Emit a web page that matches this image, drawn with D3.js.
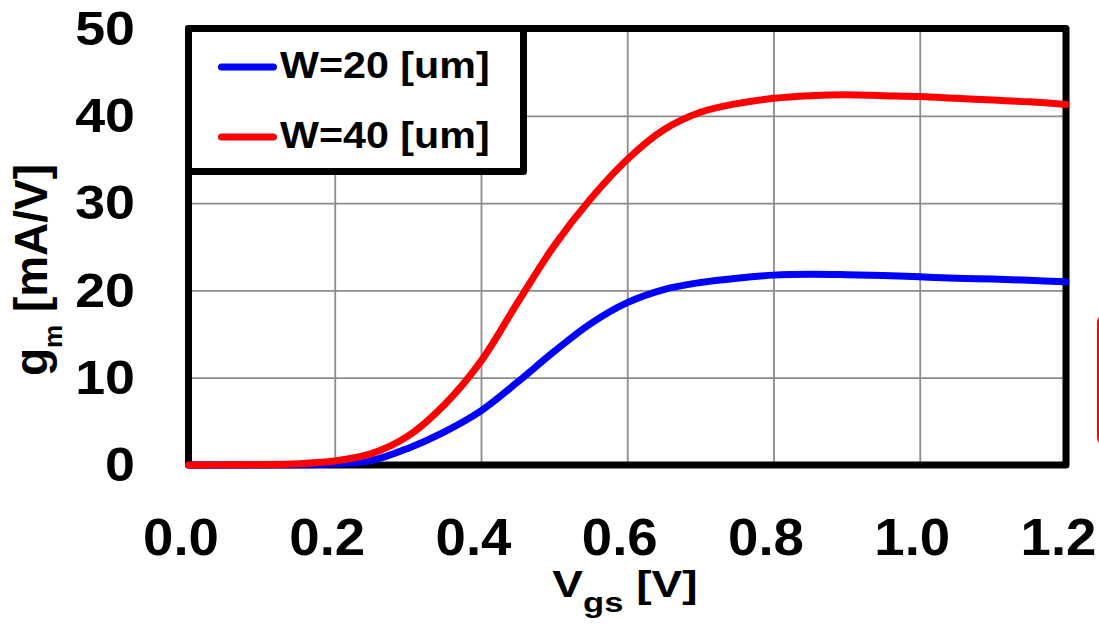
<!DOCTYPE html>
<html>
<head>
<meta charset="utf-8">
<script src="https://cdn.jsdelivr.net/npm/d3@7"></script>
<style>
  html, body { margin: 0; padding: 0; background: #fff; }
  svg { display: block; }
  text { font-family: "Liberation Sans", Arial, sans-serif; font-weight: bold; fill: #000; }
</style>
</head>
<body>
<svg id="chart" width="1099" height="624"></svg>
<script>
// Gate voltage sweep (V)
const vgs = [0.00, 0.05, 0.10, 0.15, 0.20, 0.25, 0.30, 0.35, 0.40, 0.45, 0.50, 0.55, 0.60,
             0.65, 0.70, 0.75, 0.80, 0.85, 0.90, 0.95, 1.00, 1.05, 1.10, 1.15, 1.20];
// Transconductance gm (mA/V) for W = 20 um
const gmW20 = [0.00, 0.00, 0.01, 0.03, 0.12, 0.50, 1.90, 3.80, 6.20, 9.50, 13.00, 16.20, 18.60,
               20.10, 20.90, 21.40, 21.75, 21.85, 21.80, 21.70, 21.55, 21.40, 21.30, 21.15, 21.00];
// Transconductance gm (mA/V) for W = 40 um
const gmW40 = [0.00, 0.02, 0.05, 0.15, 0.45, 1.30, 3.30, 6.90, 11.90, 18.60, 25.10, 30.50, 35.00,
               38.40, 40.40, 41.40, 42.00, 42.30, 42.40, 42.30, 42.20, 42.00, 41.80, 41.60, 41.30];
const seriesNames = ["W=20 [um]", "W=40 [um]"];
const xTicks = [0.0, 0.2, 0.4, 0.6, 0.8, 1.0, 1.2];
const yTicks = [0, 10, 20, 30, 40, 50];

const svg = d3.select("#chart");
const plotL = 188.5, plotR = 1066, plotT = 28.5, plotB = 465;
const x = d3.scaleLinear().domain([0, 1.2]).range([plotL, plotR]);
const y = d3.scaleLinear().domain([0, 50]).range([plotB, plotT]);

// widen glyphs horizontally by factor k
function stretch(sel, k) {
  sel.each(function () {
    const w = this.getComputedTextLength();
    d3.select(this).attr("textLength", w * k).attr("lengthAdjust", "spacingAndGlyphs");
  });
}

// grid
const gridColor = "#8c8c8c";
svg.append("g")
  .attr("transform", `translate(0,${plotB})`)
  .call(d3.axisBottom(x).tickValues(xTicks.slice(1, -1)).tickSize(-(plotB - plotT)).tickFormat(""))
  .call(g => g.select(".domain").remove())
  .call(g => g.selectAll("line").attr("stroke", gridColor).attr("stroke-width", 1.8));
svg.append("g")
  .attr("transform", `translate(${plotL},0)`)
  .call(d3.axisLeft(y).tickValues(yTicks.slice(1, -1)).tickSize(-(plotR - plotL)).tickFormat(""))
  .call(g => g.select(".domain").remove())
  .call(g => g.selectAll("line").attr("stroke", gridColor).attr("stroke-width", 1.8));

// tick labels
const xAxis = svg.append("g")
  .attr("transform", `translate(0,${plotB})`)
  .call(d3.axisBottom(x).tickValues(xTicks).tickSize(0).tickFormat(d3.format(".1f")))
  .call(g => g.select(".domain").remove());
xAxis.selectAll("text")
  .attr("y", 90).attr("dy", 0).attr("x", -8)
  .style("font-size", "51px").attr("fill", "#000")
  .call(stretch, 1.07);

const yAxis = svg.append("g")
  .attr("transform", `translate(${plotL},0)`)
  .call(d3.axisLeft(y).tickValues(yTicks).tickSize(0).tickFormat(d3.format("d")))
  .call(g => g.select(".domain").remove());
yAxis.selectAll("text")
  .attr("x", -53.5).attr("dy", "0.33em")
  .style("font-size", "48px").attr("fill", "#000")
  .call(stretch, 1.12);

// plot frame
svg.append("rect")
  .attr("x", plotL).attr("y", plotT)
  .attr("width", plotR - plotL).attr("height", plotB - plotT)
  .attr("fill", "none").attr("stroke", "#000").attr("stroke-width", 7)
  .attr("stroke-linejoin", "round");

// curves
const line = d3.line().x((d, i) => x(vgs[i])).y(d => y(d)).curve(d3.curveCatmullRom.alpha(0.5));
const colors = ["#0000ff", "#ff0000"];
[gmW20, gmW40].forEach((s, i) => {
  svg.append("path")
    .attr("d", line(s))
    .attr("fill", "none").attr("stroke", colors[i]).attr("stroke-width", 7)
    .attr("stroke-linecap", "round").attr("stroke-linejoin", "round");
});

// legend
const lg = svg.append("g");
lg.append("rect")
  .attr("x", 188.5).attr("y", 28.5).attr("width", 335).attr("height", 143)
  .attr("fill", "#fff").attr("stroke", "#000").attr("stroke-width", 7)
  .attr("stroke-linejoin", "round");
seriesNames.forEach((name, i) => {
  const cy = 67 + i * 70;
  lg.append("line")
    .attr("x1", 221.5).attr("x2", 273.5).attr("y1", cy).attr("y2", cy)
    .attr("stroke", colors[i]).attr("stroke-width", 7).attr("stroke-linecap", "round");
  lg.append("text")
    .attr("x", 280).attr("y", cy + 11)
    .style("font-size", "37.5px")
    .text(name)
    .call(stretch, 1.1);
});

// axis titles
const xt = svg.append("text")
  .attr("x", 625).attr("y", 597).attr("text-anchor", "middle")
  .style("font-size", "36px");
xt.append("tspan").text("V");
xt.append("tspan").text("gs").style("font-size", "27px").attr("dy", 15);
xt.append("tspan").text(" [V]").attr("dy", -15);
xt.call(stretch, 1.28);

const yt = svg.append("text")
  .attr("transform", "translate(47,270) rotate(-90)")
  .attr("text-anchor", "middle")
  .style("font-size", "46px");
yt.append("tspan").text("g");
yt.append("tspan").text("m").style("font-size", "26px").attr("dy", 15);
yt.append("tspan").text(" [mA/V]").attr("dy", -15);

// adjacent panel border peeking in at the right edge
svg.append("rect")
  .attr("x", 1098).attr("y", 313).attr("width", 120).attr("height", 134).attr("rx", 10)
  .attr("fill", "none").attr("stroke", "#ff0000").attr("stroke-width", 2);
</script>
</body>
</html>
